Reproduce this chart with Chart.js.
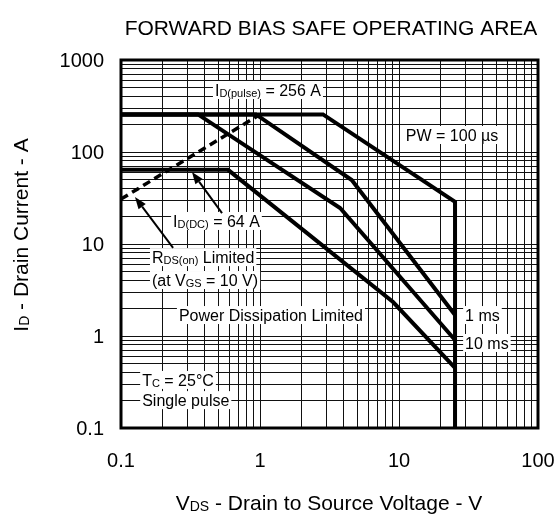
<!DOCTYPE html>
<html>
<head>
<meta charset="utf-8">
<script src="https://cdn.jsdelivr.net/npm/chart.js@4.4.1/dist/chart.umd.min.js"></script>
<style>
  html, body { margin: 0; padding: 0; background: #fff; }
</style>
</head>
<body>
<canvas id="soa" width="555" height="514"></canvas>
<script>
// forward bias SOA (log-log)
const xTicks = [0.1, 1, 10, 100];
const yTicks = [0.1, 1, 10, 100, 1000];
const xTickLabels = ['0.1', '1', '10', '100'];
const yTickLabels = ['0.1', '1', '10', '100', '1000'];

const vds100us = [0.1, 2.84, 25.3, 25.3];
const id100us = [256, 256, 28.7, 0.1];
const vds1ms = [0.1, 0.935, 4.57, 25.3];
const id1ms = [256, 256, 49.6, 1.69];
const vds10ms = [0.1, 0.358, 3.77, 25.3];
const id10ms = [256, 256, 24.6, 0.905];
const vdsDC = [0.1, 0.589, 9.06, 25.3];
const idDC = [64, 64, 2.34, 0.449];
const vdsRds = [0.1, 1.0];
const idRds = [30.8, 256];

// text notes: parts ([text, isSubscript]), anchored at left edge / vertical middle in data coords
const notes = [
  { parts: [['I'], ['D(pulse)', 1], [' = 256 A']], x: 0.474, y: 472 },
  { parts: [['PW = 100 µs']], x: 11.2, y: 153 },
  { parts: [['I'], ['D(DC)', 1], [' = 64 A']], x: 0.237, y: 17.8 },
  { parts: [['R'], ['DS(on)', 1], [' Limited']], x: 0.167, y: 7.2 },
  { parts: [['(at V'], ['GS', 1], [' = 10 V)']], x: 0.167, y: 4.06 },
  { parts: [['Power Dissipation Limited']], x: 0.261, y: 1.69 },
  { parts: [['1 ms']], x: 29.9, y: 1.69 },
  { parts: [['10 ms']], x: 29.9, y: 0.84 },
  { parts: [['T'], ['C', 1], [' = 25°C']], x: 0.142, y: 0.333 },
  { parts: [['Single pulse']], x: 0.142, y: 0.201 }
];
// arrows: from label to the curve they point at
const arrows = [
  { from: [0.533, 21.7], to: [0.324, 60.7] },
  { from: [0.237, 9.06], to: [0.126, 32.4] }
];

const FONT = '"Liberation Sans", Arial, Helvetica, sans-serif';
const font = (s) => s + 'px ' + FONT;

function richWidth(ctx, parts, size) {
  let w = 0;
  parts.forEach(([t, sub]) => {
    ctx.font = font(sub ? Math.round(size * 0.68) : size);
    w += ctx.measureText(t).width;
  });
  return w;
}

function drawRich(ctx, parts, x, y, size, align) {
  const w = richWidth(ctx, parts, size);
  let cx = align === 'center' ? x - w / 2 : x;
  ctx.textAlign = 'left';
  ctx.textBaseline = 'alphabetic';
  parts.forEach(([t, sub]) => {
    ctx.font = font(sub ? Math.round(size * 0.68) : size);
    ctx.fillText(t, cx, y + (sub ? 1 : 0));
    cx += ctx.measureText(t).width;
  });
  return w;
}

function logGrid(ticks) {
  const vals = [];
  for (let i = 0; i < ticks.length - 1; i++) {
    for (let k = 1; k < 10; k++) vals.push(ticks[i] * k);
  }
  vals.push(ticks[ticks.length - 1]);
  return vals.map(v => ({ value: v }));
}

const decor = {
  id: 'decor',
  afterDatasetsDraw(chart) {
    const ctx = chart.ctx;
    const a = chart.chartArea;
    const xs = chart.scales.x, ys = chart.scales.y;
    ctx.save();
    ctx.fillStyle = '#000';
    ctx.strokeStyle = '#000';

    // frame
    ctx.lineWidth = 3;
    ctx.strokeRect(a.left, a.top, a.right - a.left, a.bottom - a.top);

    // notes with white backing
    notes.forEach(n => {
      const px = xs.getPixelForValue(n.x);
      const py = ys.getPixelForValue(n.y);
      const w = richWidth(ctx, n.parts, 16);
      ctx.fillStyle = '#fff';
      ctx.fillRect(px - 2, py - 9, w + 4, 18);
      ctx.fillStyle = '#000';
      drawRich(ctx, n.parts, px, py + 6, 16, 'left');
    });

    // arrows
    arrows.forEach(ar => {
      const x1 = xs.getPixelForValue(ar.from[0]), y1 = ys.getPixelForValue(ar.from[1]);
      const x2 = xs.getPixelForValue(ar.to[0]), y2 = ys.getPixelForValue(ar.to[1]);
      const ang = Math.atan2(y2 - y1, x2 - x1);
      const hl = 12, hw = 4.5;
      const bx = x2 - hl * Math.cos(ang), by = y2 - hl * Math.sin(ang);
      ctx.lineWidth = 2;
      ctx.beginPath();
      ctx.moveTo(x1, y1);
      ctx.lineTo(bx, by);
      ctx.stroke();
      ctx.beginPath();
      ctx.moveTo(x2, y2);
      ctx.lineTo(bx + hw * Math.sin(ang), by - hw * Math.cos(ang));
      ctx.lineTo(bx - hw * Math.sin(ang), by + hw * Math.cos(ang));
      ctx.closePath();
      ctx.fill();
    });

    // tick labels
    ctx.font = font(20);
    ctx.textBaseline = 'alphabetic';
    ctx.textAlign = 'center';
    xTicks.forEach((v, i) => {
      ctx.fillText(xTickLabels[i], xs.getPixelForValue(v), 467);
    });
    ctx.textAlign = 'right';
    yTicks.forEach((v, i) => {
      ctx.fillText(yTickLabels[i], 104, ys.getPixelForValue(v) + 7);
    });

    // titles
    ctx.font = font(21);
    ctx.textAlign = 'center';
    ctx.fillText('FORWARD BIAS SAFE OPERATING AREA', 331, 35);
    drawRich(ctx, [['V'], ['DS', 1], [' - Drain to Source Voltage - V']], 329, 510, 21, 'center');
    ctx.translate(28, 235);
    ctx.rotate(-Math.PI / 2);
    drawRich(ctx, [['I'], ['D', 1], [' - Drain Current - A']], 0, 0, 21, 'center');
    ctx.restore();
  }
};

function series(xv, yv, extra) {
  return Object.assign({
    data: xv.map((x, i) => ({ x: x, y: yv[i] })),
    showLine: true,
    borderColor: '#000',
    borderWidth: 4,
    pointRadius: 0,
    fill: false,
    tension: 0
  }, extra || {});
}

new Chart(document.getElementById('soa'), {
  type: 'scatter',
  data: {
    datasets: [
      series(vds100us, id100us, { label: 'PW = 100 µs' }),
      series(vds1ms, id1ms, { label: '1 ms' }),
      series(vds10ms, id10ms, { label: '10 ms' }),
      series(vdsDC, idDC, { label: 'DC' }),
      series(vdsRds, idRds, { label: 'RDS(on) Limited', borderWidth: 3.5, borderDash: [8, 5] })
    ]
  },
  options: {
    responsive: false,
    animation: false,
    layout: { padding: { left: 121, right: 17, top: 60, bottom: 86 } },
    scales: {
      x: {
        type: 'logarithmic',
        min: 0.1,
        max: 100,
        afterBuildTicks: (axis) => { axis.ticks = logGrid(xTicks); },
        ticks: { display: false },
        grid: { color: '#111', lineWidth: 1, drawTicks: false },
        border: { display: false }
      },
      y: {
        type: 'logarithmic',
        min: 0.1,
        max: 1000,
        afterBuildTicks: (axis) => { axis.ticks = logGrid(yTicks); },
        ticks: { display: false },
        grid: { color: '#111', lineWidth: 1, drawTicks: false },
        border: { display: false }
      }
    },
    plugins: {
      legend: { display: false },
      tooltip: { enabled: false }
    }
  },
  plugins: [decor]
});
</script>
</body>
</html>
